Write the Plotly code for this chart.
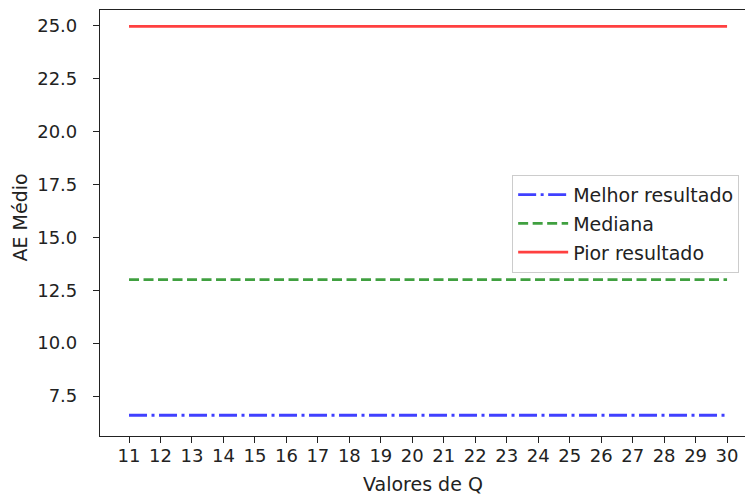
import plotly.graph_objects as go

q_values = [11, 12, 13, 14, 15, 16, 17, 18, 19, 20, 21, 22, 23, 24, 25, 26, 27, 28, 29, 30]
melhor = [6.6, 6.6, 6.6, 6.6, 6.6, 6.6, 6.6, 6.6, 6.6, 6.6, 6.6, 6.6, 6.6, 6.6, 6.6, 6.6, 6.6, 6.6, 6.6, 6.6]
mediana = [13.0, 13.0, 13.0, 13.0, 13.0, 13.0, 13.0, 13.0, 13.0, 13.0, 13.0, 13.0, 13.0, 13.0, 13.0, 13.0, 13.0, 13.0, 13.0, 13.0]
pior = [24.95, 24.95, 24.95, 24.95, 24.95, 24.95, 24.95, 24.95, 24.95, 24.95, 24.95, 24.95, 24.95, 24.95, 24.95, 24.95, 24.95, 24.95, 24.95, 24.95]
y_ticks = [7.5, 10.0, 12.5, 15.0, 17.5, 20.0, 22.5, 25.0]
y_tick_labels = ["7.5", "10.0", "12.5", "15.0", "17.5", "20.0", "22.5", "25.0"]

FONT = "DejaVu Sans"
fig = go.Figure()
fig.add_trace(go.Scatter(x=q_values, y=melhor, mode="lines", name="Melhor resultado",
                         legendgroup="a",
                         line=dict(color="rgba(0,0,255,0.75)", width=2.8, dash="18px,4.5px,3px,4.5px")))
fig.add_trace(go.Scatter(x=q_values, y=mediana, mode="lines", name="Mediana",
                         legendgroup="b",
                         line=dict(color="rgba(0,128,0,0.75)", width=2.8, dash="10px,4.5px")))
fig.add_trace(go.Scatter(x=q_values, y=pior, mode="lines", name="Pior resultado",
                         legendgroup="c",
                         line=dict(color="rgba(255,0,0,0.75)", width=2.8)))

axis_common = dict(showgrid=False, zeroline=False, showline=True, linecolor="#222", linewidth=1.2,
                   ticks="outside", ticklen=6, tickwidth=1.2, tickcolor="#222", automargin=False,
                   tickfont=dict(family=FONT, size=18, color="#222"))
fig.update_layout(
    width=745, height=498,
    margin=dict(l=100, r=0, t=10, b=62, autoexpand=False),
    paper_bgcolor="white", plot_bgcolor="white",
    font=dict(family=FONT, size=18, color="#222"),
    xaxis=dict(range=[10.078, 30.57], tickmode="array", tickvals=q_values,
               ticktext=[str(v) for v in q_values], mirror=True, ticklabelstandoff=-3,
               **axis_common),
    yaxis=dict(range=[5.62, 25.72], tickmode="array", tickvals=y_ticks, ticktext=y_tick_labels,
               mirror=False, ticklabelstandoff=12, **axis_common),
    legend=dict(x=0.639, y=0.613, xanchor="left", yanchor="top",
                bgcolor="rgba(255,255,255,0.8)", bordercolor="#cccccc", borderwidth=1,
                font=dict(family=FONT, size=19, color="#222"), tracegroupgap=1,
                traceorder="grouped", itemwidth=50),
    showlegend=True,
    annotations=[
        dict(text="Valores de Q", xref="paper", yref="paper", x=0.5, y=0, yshift=-48,
             xanchor="center", yanchor="middle", showarrow=False,
             font=dict(family=FONT, size=19, color="#222")),
        dict(text="AE Médio", xref="paper", yref="paper", x=0, y=0.513, xshift=-80,
             xanchor="center", yanchor="middle", showarrow=False, textangle=-90,
             font=dict(family=FONT, size=19, color="#222")),
    ],
)
fig.write_html("out.html", config={"displayModeBar": False},
               post_script="document.body.style.margin='0';document.body.style.overflow='hidden';")
